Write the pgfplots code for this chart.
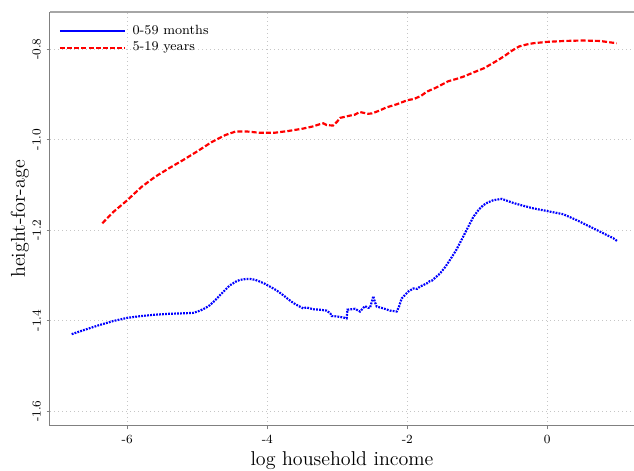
\documentclass[border=0pt]{standalone}
\usepackage{pgfplots}
\pgfplotsset{compat=1.18}
\begin{document}
\begin{tikzpicture}
\begin{axis}[
  scale only axis, width=350.4pt, height=248.4pt,
  xmin=-7.104, xmax=1.239, ymin=-1.633, ymax=-0.718,
  axis lines*=left,
  axis line style={gray, line width=0.6pt},
  clip=false,
  xtick={-6,-4,-2,0}, ytick={-1.6,-1.4,-1.2,-1.0,-0.8},
  tick style={gray, line width=0.5pt}, tick align=outside, major tick length=2pt,
  /pgf/number format/assume math mode=true,
  ticklabel style={font=\fontsize{7.5}{9}\selectfont},
  yticklabel style={rotate=90, anchor=south, /pgf/number format/.cd, fixed, fixed zerofill, precision=1},
  xticklabel style={/pgf/number format/.cd, fixed, precision=0},
  grid=major, major grid style={dotted, gray!45, line width=0.5pt},
  xlabel={log household income}, ylabel={height-for-age},
  label style={font=\fontsize{12}{14}\selectfont},
  xlabel style={yshift=2pt},
  ylabel style={yshift=-5pt},
  legend style={at={(0.006,0.985)}, anchor=north west, draw=none, fill=none,
    font=\fontsize{8}{10}\selectfont, row sep=-1pt,
    nodes={inner xsep=4pt}},
  legend cell align=left,
  legend image code/.code={\draw[#1] (0cm,0cm) -- (1.37cm,0cm);},
]
\draw[gray!70, line width=0.8pt] (rel axis cs:0,1) -- (rel axis cs:1,1);
\addplot[blue, line width=1.3pt, dash pattern=on 1.1pt off 0.7pt,
  legend image code/.code={\draw[blue, line width=1.3pt, solid] (0cm,0cm) -- (1.37cm,0cm);}]
coordinates {
(-6.794,-1.430) (-6.6,-1.420) (-6.4,-1.410) (-6.2,-1.401) (-6.0,-1.394) (-5.8,-1.390)
(-5.6,-1.387) (-5.4,-1.385) (-5.2,-1.384) (-5.057,-1.383) (-4.96,-1.378) (-4.88,-1.372)
(-4.82,-1.366) (-4.75,-1.356) (-4.676,-1.344) (-4.6,-1.332) (-4.533,-1.322) (-4.45,-1.314)
(-4.39,-1.310) (-4.3,-1.308) (-4.247,-1.308) (-4.17,-1.310) (-4.104,-1.314) (-4.03,-1.319)
(-3.961,-1.325) (-3.87,-1.333) (-3.771,-1.344) (-3.7,-1.353) (-3.628,-1.361) (-3.55,-1.368)
(-3.485,-1.373) (-3.44,-1.371) (-3.39,-1.373) (-3.343,-1.375) (-3.25,-1.376) (-3.152,-1.378)
(-3.1,-1.384) (-3.081,-1.390) (-3.0,-1.391) (-2.92,-1.393) (-2.866,-1.395) (-2.855,-1.376)
(-2.8,-1.375) (-2.747,-1.374) (-2.7,-1.378) (-2.676,-1.380) (-2.604,-1.368) (-2.56,-1.372)
(-2.533,-1.372) (-2.50,-1.355) (-2.486,-1.346) (-2.46,-1.360) (-2.437,-1.369) (-2.343,-1.373)
(-2.247,-1.378) (-2.151,-1.380) (-2.12,-1.370) (-2.08,-1.351) (-1.986,-1.336) (-1.914,-1.329)
(-1.86,-1.330) (-1.819,-1.325) (-1.723,-1.318) (-1.68,-1.313) (-1.651,-1.312) (-1.6,-1.305)
(-1.533,-1.296) (-1.46,-1.282) (-1.39,-1.266) (-1.3,-1.244) (-1.223,-1.221) (-1.14,-1.196)
(-1.057,-1.171) (-0.98,-1.155) (-0.914,-1.145) (-0.85,-1.139) (-0.771,-1.134) (-0.651,-1.131)
(-0.56,-1.136) (-0.486,-1.140) (-0.35,-1.146) (-0.2,-1.152) (0.0,-1.158) (0.229,-1.165)
(0.42,-1.178) (0.55,-1.188) (0.657,-1.196) (0.8,-1.207) (0.943,-1.218) (0.996,-1.224)
};
\addlegendentry{0-59 months}
\addplot[red, line width=1.3pt, dash pattern=on 3pt off 1.3pt]
coordinates {
(-6.357,-1.185) (-6.2,-1.160) (-6.0,-1.134) (-5.8,-1.105) (-5.6,-1.082) (-5.4,-1.063)
(-5.2,-1.045) (-5.0,-1.026) (-4.8,-1.006) (-4.6,-0.990) (-4.45,-0.982) (-4.3,-0.982)
(-4.1,-0.985) (-3.9,-0.985) (-3.7,-0.981) (-3.5,-0.976) (-3.35,-0.971) (-3.25,-0.966)
(-3.2,-0.964) (-3.15,-0.968) (-3.06,-0.969) (-3.0,-0.960) (-2.96,-0.952) (-2.9,-0.950)
(-2.82,-0.947) (-2.75,-0.945) (-2.68,-0.939) (-2.62,-0.941) (-2.56,-0.943) (-2.5,-0.942)
(-2.4,-0.936) (-2.3,-0.929) (-2.15,-0.922) (-2.0,-0.913) (-1.9,-0.910) (-1.8,-0.903)
(-1.72,-0.894) (-1.6,-0.886) (-1.5,-0.878) (-1.414,-0.871) (-1.3,-0.866) (-1.2,-0.861)
(-1.06,-0.852) (-0.9,-0.842) (-0.8,-0.833) (-0.7,-0.824) (-0.6,-0.814) (-0.5,-0.803)
(-0.4,-0.794) (-0.3,-0.790) (-0.2,-0.787) (0.0,-0.784) (0.25,-0.782) (0.5,-0.781)
(0.75,-0.782) (0.99,-0.787)
};
\addlegendentry{5-19 years}
\end{axis}
\pgfresetboundingbox
\path ([xshift=-30pt,yshift=-27pt]current axis.south west) rectangle ([yshift=7.2pt]current axis.north east);
\end{tikzpicture}
\end{document}
